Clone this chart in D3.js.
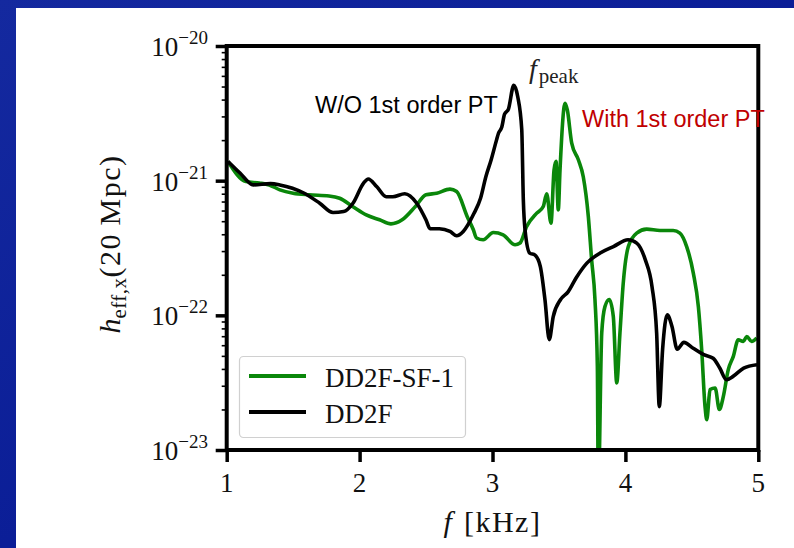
<!DOCTYPE html>
<html>
<head>
<meta charset="utf-8">
<script src="https://cdn.jsdelivr.net/npm/d3@7"></script>
<style>
  html, body { margin: 0; padding: 0; background: #ffffff; }
  svg { display: block; }
</style>
</head>
<body>
<svg id="chart"></svg>
<script>
// Data: frequency in kHz, effective strain at 20 Mpc
const freqDD2F = [1.01, 1.10, 1.20, 1.33, 1.40, 1.58, 1.70, 1.80, 1.88, 1.95, 2.03, 2.065, 2.13, 2.20, 2.25,
  2.34, 2.43, 2.50, 2.53, 2.60, 2.68, 2.73, 2.78, 2.86, 2.91, 2.95, 2.99, 3.03, 3.045, 3.07, 3.09, 3.12,
  3.16, 3.19, 3.22, 3.232, 3.245, 3.28, 3.32, 3.36, 3.395, 3.427, 3.457, 3.51, 3.57, 3.63, 3.71, 3.81,
  3.91, 4.02, 4.085, 4.15, 4.20, 4.235, 4.255, 4.28, 4.315, 4.35, 4.39, 4.44, 4.51, 4.59, 4.66, 4.71,
  4.76, 4.81, 4.89, 4.99];
const strainDD2F = [1.39e-21, 1.14e-21, 9.3e-22, 9.5e-22, 9.3e-22, 8.1e-22, 6.8e-22, 5.8e-22, 5.9e-22, 6.8e-22,
  9.6e-22, 1.03e-21, 9.0e-22, 7.6e-22, 7.6e-22, 8.0e-22, 6.8e-22, 5.1e-22, 4.4e-22, 4.4e-22, 4.2e-22,
  3.9e-22, 4.2e-22, 5.7e-22, 7.4e-22, 1.07e-21, 1.43e-21, 2.0e-21, 2.25e-21, 2.5e-21, 3.1e-21, 3.4e-21,
  5.1e-21, 4.2e-21, 2.4e-21, 7.2e-22, 4.3e-22, 2.9e-22, 2.8e-22, 2.3e-22, 1.3e-22, 6.6e-23, 9.8e-23,
  1.3e-22, 1.5e-22, 1.9e-22, 2.44e-22, 2.9e-22, 3.24e-22, 3.64e-22, 3.44e-22, 2.58e-22, 1.64e-22,
  7.4e-23, 2.1e-23, 5.6e-23, 1.01e-22, 8.3e-23, 5.6e-23, 6.3e-23, 5.7e-23, 5.1e-23, 4.8e-23, 4.06e-23,
  3.33e-23, 3.52e-23, 4.06e-23, 4.3e-23];

const freqSF1 = [1.01, 1.145, 1.245, 1.32, 1.40, 1.50, 1.62, 1.77, 1.85, 1.95, 2.05, 2.15, 2.236, 2.32, 2.42,
  2.50, 2.58, 2.68, 2.73, 2.81, 2.856, 2.88, 2.93, 3.006, 3.08, 3.17, 3.207, 3.257, 3.333, 3.382, 3.408,
  3.44, 3.463, 3.478, 3.495, 3.508, 3.546, 3.563, 3.596, 3.646, 3.683, 3.721, 3.746, 3.771, 3.789, 3.796,
  3.822, 3.846, 3.879, 3.909, 3.935, 3.959, 3.984, 4.022, 4.085, 4.16, 4.26, 4.36, 4.41, 4.461, 4.511,
  4.549, 4.574, 4.599, 4.612, 4.637, 4.675, 4.707, 4.737, 4.774, 4.812, 4.849, 4.887, 4.913, 4.95, 4.988];
const strainSF1 = [1.39e-21, 9.85e-22, 9.6e-22, 9.3e-22, 8.55e-22, 8.07e-22, 7.85e-22, 7.7e-22, 7.4e-22,
  6.4e-22, 5.57e-22, 5.12e-22, 4.78e-22, 5.12e-22, 6.43e-22, 7.85e-22, 8.07e-22, 8.65e-22, 8.3e-22,
  5.4e-22, 4.32e-22, 3.75e-22, 3.64e-22, 4.12e-22, 3.96e-22, 3.34e-22, 3.44e-22, 4.57e-22, 5.74e-22,
  6.43e-22, 8.0e-22, 4.84e-22, 1.2e-21, 1.39e-21, 6.07e-22, 1.2e-21, 3.76e-21, 3.35e-21, 1.9e-21,
  1.43e-21, 1.07e-21, 5.42e-22, 2.58e-22, 1.31e-22, 4.18e-23, 5e-24, 7.4e-23, 1.16e-22, 1.31e-22,
  9.8e-23, 3.15e-23, 7.4e-23, 1.74e-22, 3.24e-22, 4.08e-22, 4.37e-22, 4.27e-22, 4.27e-22, 4.08e-22,
  3.24e-22, 2.06e-22, 1.16e-22, 5.56e-23, 2.11e-23, 1.68e-23, 2.81e-23, 2.89e-23, 2.0e-23, 2.5e-23,
  3.95e-23, 4.96e-23, 6.59e-23, 6.4e-23, 6.97e-23, 6.4e-23, 6.79e-23];

const xTicks = [1, 2, 3, 4, 5];
const yTickExponents = [-20, -21, -22, -23];
const seriesNames = ["DD2F-SF-1", "DD2F"];

// Layout
const W = 794, H = 548;
const plotLeft = 226.7, plotRight = 758.3, plotTop = 46, plotBottom = 450;

const svg = d3.select("#chart").attr("width", W).attr("height", H);

// Slide background
const defs = svg.append("defs");
const grad = defs.append("linearGradient").attr("id", "bg")
  .attr("x1", "0").attr("y1", "0").attr("x2", "1").attr("y2", "1");
grad.append("stop").attr("offset", "0%").attr("stop-color", "#14299f");
grad.append("stop").attr("offset", "100%").attr("stop-color", "#02138f");
svg.append("rect").attr("width", W).attr("height", H).attr("fill", "url(#bg)");
svg.append("rect").attr("x", 16).attr("y", 8).attr("width", W - 16).attr("height", H - 8).attr("fill", "#ffffff");

defs.append("clipPath").attr("id", "plotclip")
  .append("rect").attr("x", plotLeft).attr("y", plotTop)
  .attr("width", plotRight - plotLeft).attr("height", plotBottom - plotTop);

// Scales
const x = d3.scaleLinear().domain([1, 5]).range([plotLeft, plotRight]);
const y = d3.scaleLog().domain([1e-23, 1e-20]).range([plotBottom, plotTop]);

const serif = "'Liberation Serif', 'Times New Roman', serif";
const sans = "'Liberation Sans', Arial, sans-serif";

// Minor y ticks
const minorTicks = [];
yTickExponents.slice(1).forEach(e => {
  for (let m = 2; m <= 9; m++) minorTicks.push(m * Math.pow(10, e));
});
svg.append("g")
  .attr("transform", `translate(${plotLeft},0)`)
  .call(d3.axisLeft(y).tickValues(minorTicks).tickSize(5).tickFormat(""))
  .call(g => g.select(".domain").remove())
  .call(g => g.selectAll("line").attr("stroke", "#000").attr("stroke-width", 1.6));

// Major y ticks
svg.append("g")
  .attr("transform", `translate(${plotLeft},0)`)
  .call(d3.axisLeft(y).tickValues(yTickExponents.map(e => Math.pow(10, e))).tickSize(11).tickFormat(""))
  .call(g => g.select(".domain").remove())
  .call(g => g.selectAll("line").attr("stroke", "#000").attr("stroke-width", 3.5));

// Major x ticks
svg.append("g")
  .attr("transform", `translate(0,${plotBottom})`)
  .call(d3.axisBottom(x).tickValues(xTicks).tickSize(12).tickFormat(""))
  .call(g => g.select(".domain").remove())
  .call(g => g.selectAll("line").attr("stroke", "#000").attr("stroke-width", 3.5));

// y tick labels 10^e
const yLab = svg.append("g").selectAll("text")
  .data(yTickExponents)
  .join("text")
  .attr("x", 208)
  .attr("y", e => y(Math.pow(10, e)) + 10)
  .attr("text-anchor", "end")
  .attr("font-family", serif)
  .attr("font-size", 27)
  .attr("fill", "#111");
yLab.append("tspan").text("10");
yLab.append("tspan").attr("dy", -12).attr("font-size", 19).text(e => "\u2212" + Math.abs(e));

// x tick labels
svg.append("g").selectAll("text")
  .data(xTicks)
  .join("text")
  .attr("x", d => x(d))
  .attr("y", 492)
  .attr("text-anchor", "middle")
  .attr("font-family", serif)
  .attr("font-size", 27)
  .attr("fill", "#111")
  .text(d => d);

// Axis labels
const xl = svg.append("text")
  .attr("x", (plotLeft + plotRight) / 2)
  .attr("y", 532)
  .attr("text-anchor", "middle")
  .attr("font-family", serif)
  .attr("font-size", 30)
  .attr("fill", "#111");
xl.append("tspan").attr("font-style", "italic").text("f");
xl.append("tspan").attr("dx", 12).attr("letter-spacing", 1.5).text("[kHz]");

const yl = svg.append("text")
  .attr("transform", `translate(120,${(plotTop + plotBottom) / 2 - 4}) rotate(-90)`)
  .attr("text-anchor", "middle")
  .attr("font-family", serif)
  .attr("font-size", 30)
  .attr("fill", "#111");
yl.append("tspan").attr("font-style", "italic").text("h");
yl.append("tspan").attr("dy", 6).attr("font-size", 21).attr("letter-spacing", 0.5).text("eff,x");
yl.append("tspan").attr("dy", -6).attr("letter-spacing", 1.5).text("(20\u2009Mpc)");

// Curves
const line = d3.line()
  .x(d => x(d[0]))
  .y(d => y(d[1]))
  .curve(d3.curveMonotoneX);

const plot = svg.append("g").attr("clip-path", "url(#plotclip)");
plot.append("path")
  .datum(d3.zip(freqSF1, strainSF1))
  .attr("d", line)
  .attr("fill", "none")
  .attr("stroke", "#0a870a")
  .attr("stroke-width", 3.6)
  .attr("stroke-linejoin", "round");
plot.append("path")
  .datum(d3.zip(freqDD2F, strainDD2F))
  .attr("d", line)
  .attr("fill", "none")
  .attr("stroke", "#000")
  .attr("stroke-width", 3.6)
  .attr("stroke-linejoin", "round");

// Frame
svg.append("rect")
  .attr("x", plotLeft).attr("y", plotTop)
  .attr("width", plotRight - plotLeft).attr("height", plotBottom - plotTop)
  .attr("fill", "none")
  .attr("stroke", "#000")
  .attr("stroke-width", 4);

// Legend
const legend = svg.append("g");
legend.append("rect")
  .attr("x", 239.5).attr("y", 356.5).attr("width", 226).attr("height", 81)
  .attr("rx", 4)
  .attr("fill", "#fff").attr("fill-opacity", 0.85)
  .attr("stroke", "#d0d0d0").attr("stroke-width", 1.2);
const legendColors = ["#0a870a", "#000"];
seriesNames.forEach((name, i) => {
  const ly = 376 + i * 36;
  legend.append("line")
    .attr("x1", 249).attr("x2", 306).attr("y1", ly).attr("y2", ly)
    .attr("stroke", legendColors[i]).attr("stroke-width", 4);
  legend.append("text")
    .attr("x", 325).attr("y", ly + 11)
    .attr("font-family", serif).attr("font-size", 27).attr("fill", "#111")
    .text(name);
});

// Annotations
svg.append("text")
  .attr("x", 315).attr("y", 113)
  .attr("font-family", sans).attr("font-size", 23.5).attr("fill", "#000")
  .text("W/O 1st order PT");
svg.append("text")
  .attr("x", 582).attr("y", 127)
  .attr("font-family", sans).attr("font-size", 23.5).attr("fill", "#c00000")
  .text("With 1st order PT");
const fp = svg.append("text")
  .attr("x", 529).attr("y", 78)
  .attr("font-family", serif).attr("font-size", 28).attr("fill", "#222");
fp.append("tspan").attr("font-style", "italic").text("f");
fp.append("tspan").attr("dy", 5).attr("dx", 2).attr("font-size", 21).text("peak");
</script>
</body>
</html>
